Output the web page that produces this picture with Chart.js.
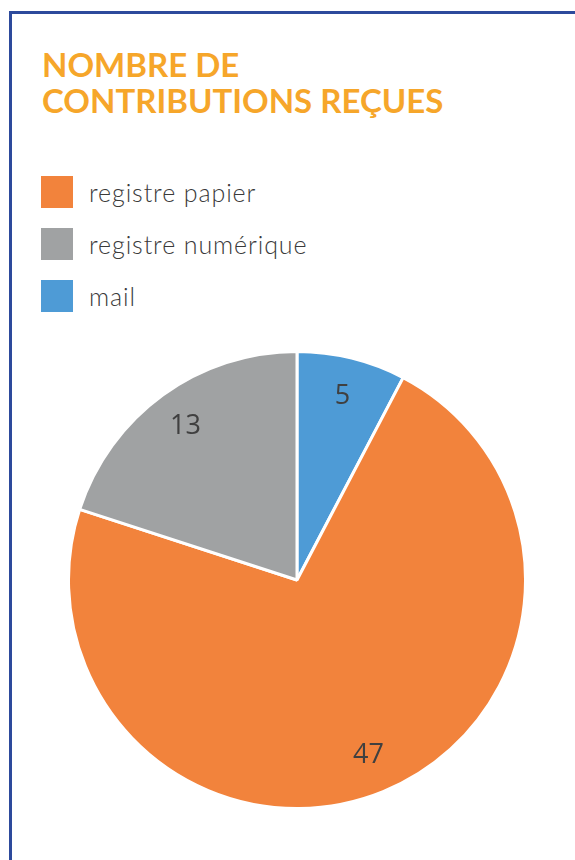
<!DOCTYPE html>
<html>
<head>
<meta charset="utf-8">
<script src="https://cdn.jsdelivr.net/npm/chart.js@4"></script>
<style>
    body { margin: 0; background: #fff; width: 575px; height: 860px; overflow: hidden; position: relative; }
    .frame { position: absolute; left: 9px; top: 11px; right: -10px; bottom: -10px; border-left: 3px solid #2d4a9c; border-top: 3px solid #2d4a9c; }
    h1 { position: absolute; left: 42px; top: 46px; margin: 0; font-family: Lato, sans-serif; font-weight: 700; font-size: 33px; line-height: 36px; color: #f6a62a; }
    .legend { position: absolute; left: 41px; top: 176px; font-family: Lato, sans-serif; font-weight: 300; font-size: 25px; letter-spacing: 0.9px; color: #3a3a3a; }
    .legend div { height: 52px; display: flex; align-items: flex-start; }
    .legend span.box { width: 32px; height: 32px; margin-right: 16px; display: inline-block; }
    .legend span.txt { line-height: 32px; }
    .chart { position: absolute; left: 67px; top: 350px; width: 460px; height: 460px; }
</style>
</head>
<body>
<div class="frame"></div>
<h1>NOMBRE DE<br>CONTRIBUTIONS REÇUES</h1>
<div class="legend" id="legend"></div>
<div class="chart"><canvas id="pie"></canvas></div>
<script>
// Chart data (drawn clockwise from the top)
const labels = ['mail', 'registre papier', 'registre numérique'];
const values = [5, 47, 13];
const colors = ['#4e9bd6', '#f2833c', '#a0a2a3'];
// legend order as printed
const legendOrder = [1, 2, 0];

// HTML legend
document.getElementById('legend').innerHTML = legendOrder
    .map(i => `<div><span class="box" style="background:${colors[i]}"></span><span class="txt">${labels[i]}</span></div>`)
    .join('');

// value labels inside each slice
const sliceLabels = {
    id: 'sliceLabels',
    afterDatasetsDraw(chart) {
        const ctx = chart.ctx;
        const meta = chart.getDatasetMeta(0);
        ctx.save();
        ctx.font = '27px "Open Sans", sans-serif';
        ctx.fillStyle = '#404040';
        ctx.textAlign = 'center';
        ctx.textBaseline = 'middle';
        meta.data.forEach((arc, i) => {
            const p = arc.getProps(['x', 'y', 'startAngle', 'endAngle', 'outerRadius']);
            const a = (p.startAngle + p.endAngle) / 2;
            const r = p.outerRadius * 0.83;
            ctx.fillText(values[i], p.x + Math.cos(a) * r, p.y + Math.sin(a) * r);
        });
        ctx.restore();
    }
};

new Chart(document.getElementById('pie'), {
    type: 'pie',
    data: {
        labels: labels,
        datasets: [{
            data: values,
            backgroundColor: colors,
            borderColor: '#ffffff',
            borderWidth: 3
        }]
    },
    options: {
        responsive: true,
        maintainAspectRatio: false,
        animation: false,
        plugins: {
            legend: { display: false },
            tooltip: { enabled: false }
        }
    },
    plugins: [sliceLabels]
});
</script>
</body>
</html>
